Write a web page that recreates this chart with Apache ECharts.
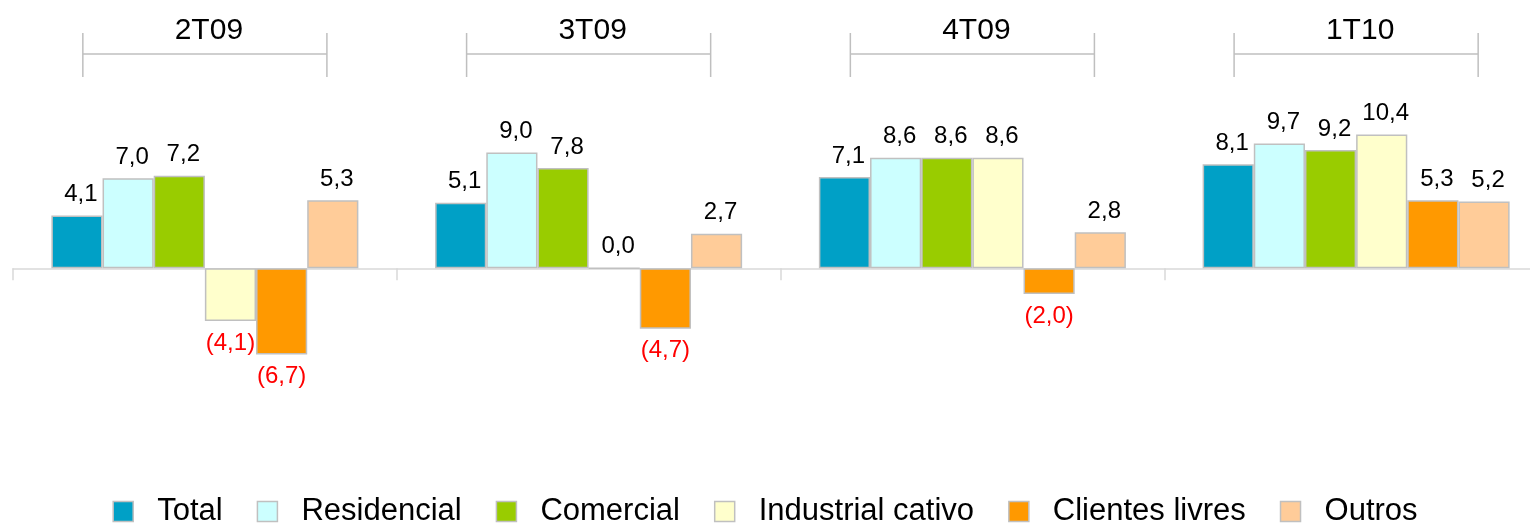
<!DOCTYPE html>
<html>
<head>
<meta charset="utf-8">
<script src="https://cdn.jsdelivr.net/npm/echarts@6/dist/echarts.min.js"></script>
<style>
html,body{margin:0;padding:0;background:#fff;}
#c{width:1530px;height:525px;}
</style>
</head>
<body>
<div id="c"></div>
<script>
const categories = ['2T09', '3T09', '4T09', '1T10'];
const seriesNames = ['Total', 'Residencial', 'Comercial', 'Industrial cativo', 'Clientes livres', 'Outros'];
const total = [4.1, 5.1, 7.1, 8.1];
const residencial = [7.0, 9.0, 8.6, 9.7];
const comercial = [7.2, 7.8, 8.6, 9.2];
const industrialCativo = [-4.1, 0.0, 8.6, 10.4];
const clientesLivres = [-6.7, -4.7, -2.0, 5.3];
const outros = [5.3, 2.7, 2.8, 5.2];

const seriesValues = [total, residencial, comercial, industrialCativo, clientesLivres, outros];
const colors = ['#00A0C6', '#CCFFFF', '#99CC00', '#FFFFCC', '#FF9900', '#FFCC99'];
const FONT = '"Liberation Sans", Arial, sans-serif';

function fmt(v) {
  const s = Math.abs(v).toFixed(1).replace('.', ',');
  return v < 0 ? '(' + s + ')' : s;
}

const barSeries = seriesNames.map((name, si) => ({
  name: name,
  type: 'bar',
  barGap: '0%',
  barCategoryGap: '20%',
  itemStyle: { color: colors[si], borderColor: '#C0C0C0', borderWidth: 1.5 },
  label: {
    show: true,
    position: 'top',
    distance: 9,
    offset: [4, 0],
    fontFamily: FONT,
    fontSize: 24,
    color: '#000',
    formatter: p => fmt(p.value)
  },
  data: seriesValues[si].map(v => v < 0 ? {
    value: v,
    label: { position: 'bottom', distance: 10, offset: [0, 0], color: '#FF0000' }
  } : v)
}));

const bracketSeries = {
  type: 'custom',
  name: 'brackets',
  silent: true,
  clip: false,
  data: categories.map((c, i) => [i, 0]),
  encode: { x: 0, y: 1 },
  renderItem: function (params, api) {
    const cx = api.coord([api.value(0), 0])[0];
    const half = api.size([1, 0])[0] * 0.318;
    const top = params.coordSys.y;
    const ly = top - 60;
    const lineStyle = { stroke: '#BFBFBF', lineWidth: 1.5 };
    return {
      type: 'group',
      children: [
        { type: 'line', shape: { x1: cx - half, y1: ly, x2: cx + half, y2: ly }, style: lineStyle },
        { type: 'line', shape: { x1: cx - half, y1: ly - 21, x2: cx - half, y2: ly + 23 }, style: lineStyle },
        { type: 'line', shape: { x1: cx + half, y1: ly - 21, x2: cx + half, y2: ly + 23 }, style: lineStyle },
        { type: 'text', style: { text: categories[api.value(0)], x: cx + 4, y: ly - 23, align: 'center', verticalAlign: 'middle', fontFamily: FONT, fontSize: 30, fill: '#000' } }
      ]
    };
  }
};

const chart = echarts.init(document.getElementById('c'), null, { renderer: 'canvas' });
chart.setOption({
  animation: false,
  color: colors,
  grid: { left: 13, top: 114, height: 283, width: 1535, outerBoundsMode: 'none', containLabel: false },
  legend: {
    data: seriesNames.map(n => ({ name: n, itemStyle: { borderColor: '#C0C0C0', borderWidth: 1.5 } })),
    top: 491,
    left: 'center',
    itemWidth: 20,
    itemHeight: 20,
    itemGap: 34,
    icon: 'rect',
    textStyle: { fontFamily: FONT, fontSize: 31, color: '#000', padding: [0, 0, 0, 19] }
  },
  xAxis: {
    type: 'category',
    data: categories,
    axisLine: { show: true, onZero: true, lineStyle: { color: '#D9D9D9', width: 1.5 } },
    axisTick: { show: true, length: 12, lineStyle: { color: '#D9D9D9', width: 1.5 } },
    axisLabel: { show: false }
  },
  yAxis: {
    type: 'value',
    min: -10,
    max: 12,
    show: false,
    splitLine: { show: false }
  },
  series: barSeries.concat([bracketSeries])
});
</script>
</body>
</html>
